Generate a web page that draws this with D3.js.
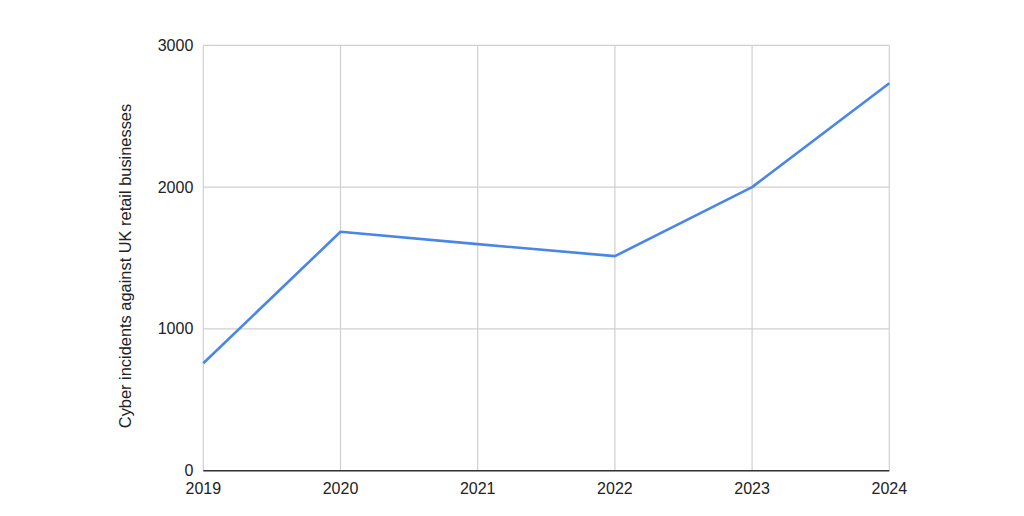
<!DOCTYPE html>
<html>
<head>
<meta charset="utf-8">
<script src="https://cdn.jsdelivr.net/npm/d3@7"></script>
<style>
	body { margin: 0; background: #fff; }
	text { font-family: Arial, "Liberation Sans", sans-serif; fill: #222; }
</style>
</head>
<body>
<svg id="chart" width="1024" height="516"></svg>
<script>
const years = ['2019', '2020', '2021', '2022', '2023', '2024']
const incidents = [758, 1685, 1598, 1513, 2000, 2732]
const yTicks = [0, 1000, 2000, 3000]
const yLabel = 'Cyber incidents against UK retail businesses'

const margin = { top: 45.3, right: 134.7, bottom: 45.3, left: 203.3 }
const width = 1024 - margin.left - margin.right
const height = 516 - margin.top - margin.bottom

const svg = d3.select('#chart')
const g = svg.append('g').attr('transform', `translate(${margin.left},${margin.top})`)

const x = d3.scalePoint().domain(years).range([0, width])
const y = d3.scaleLinear().domain([0, 3000]).range([height, 0])

// grid
g.append('g')
	.selectAll('line')
	.data(years)
	.join('line')
	.attr('x1', d => x(d))
	.attr('x2', d => x(d))
	.attr('y1', 0)
	.attr('y2', height)
	.attr('stroke', '#d0d0d0')
	.attr('stroke-width', 1.2)

g.append('g')
	.selectAll('line')
	.data(yTicks)
	.join('line')
	.attr('x1', 0)
	.attr('x2', width)
	.attr('y1', d => y(d))
	.attr('y2', d => y(d))
	.attr('stroke', '#d0d0d0')
	.attr('stroke-width', 1.2)

// baseline
g.append('line')
	.attr('x1', 0)
	.attr('x2', width)
	.attr('y1', y(0))
	.attr('y2', y(0))
	.attr('stroke', '#333')
	.attr('stroke-width', 1.5)

// y tick labels
g.append('g')
	.selectAll('text')
	.data(yTicks)
	.join('text')
	.attr('x', -10)
	.attr('y', d => y(d))
	.attr('dy', '0.35em')
	.attr('text-anchor', 'end')
	.style('font-size', '16px')
	.text(d => d)

// x tick labels
g.append('g')
	.selectAll('text')
	.data(years)
	.join('text')
	.attr('x', d => x(d))
	.attr('y', height + 23)
	.attr('text-anchor', 'middle')
	.style('font-size', '16px')
	.text(d => d)

// y axis title
svg.append('text')
	.attr('transform', `translate(131,${margin.top + height / 2 + 8}) rotate(-90)`)
	.attr('text-anchor', 'middle')
	.style('font-size', '16.4px')
	.text(yLabel)

const line = d3.line()
	.x((d, i) => x(years[i]))
	.y(d => y(d))

g.append('path')
	.datum(incidents)
	.attr('fill', 'none')
	.attr('stroke', '#4a86e8')
	.attr('stroke-width', 2.6)
	.attr('stroke-linejoin', 'round')
	.attr('d', line)
</script>
</body>
</html>
